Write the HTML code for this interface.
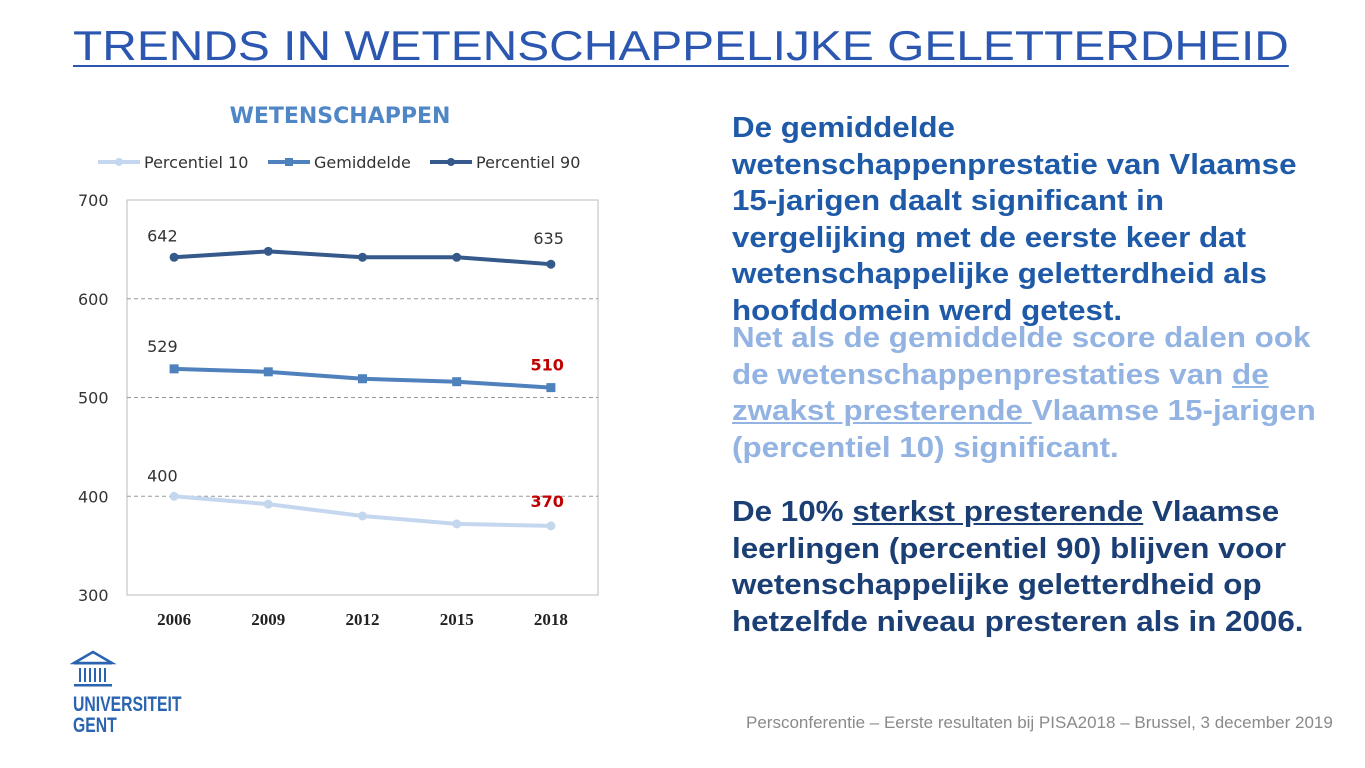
<!DOCTYPE html>
<html><head><meta charset="utf-8"><style>
body{margin:0;width:1365px;height:768px;background:#fff;position:relative;overflow:hidden;font-family:"Liberation Sans",sans-serif}
#title{position:absolute;left:73px;top:22px;font-size:42px;color:#2b57b0;text-decoration:underline;text-decoration-thickness:2px;text-underline-offset:5px;white-space:nowrap;transform:scaleX(1.14);transform-origin:left top}
.p{position:absolute;left:732px;font-size:28.5px;font-weight:bold;line-height:36.5px;white-space:nowrap;font-family:"Liberation Sans",sans-serif;transform:scaleX(1.1);transform-origin:left top}
#foot{position:absolute;left:746px;top:713px;font-size:17px;color:#8a8a8a;white-space:nowrap}
</style></head><body>
<div id="title">TRENDS IN WETENSCHAPPELIJKE GELETTERDHEID</div>
<svg id="chart" width="700" height="768" style="position:absolute;left:0;top:0"></svg>
<div class="p" style="top:110px;color:#1f5aa8">De gemiddelde<br>wetenschappenprestatie van Vlaamse<br>15-jarigen daalt significant in<br>vergelijking met de eerste keer dat<br>wetenschappelijke geletterdheid als<br>hoofddomein werd getest.</div>
<div class="p" style="top:320px;color:#93b3e3">Net als de gemiddelde score dalen ook<br>de wetenschappenprestaties van <u>de</u><br><u>zwakst presterende </u>Vlaamse 15-jarigen<br>(percentiel 10) significant.</div>
<div class="p" style="top:494px;color:#1b3f75">De 10% <u>sterkst presterende</u> Vlaamse<br>leerlingen (percentiel 90) blijven voor<br>wetenschappelijke geletterdheid op<br>hetzelfde niveau presteren als in 2006.</div>
<div id="foot">Persconferentie – Eerste resultaten bij PISA2018 – Brussel, 3 december 2019</div>
<svg width="150" height="90" style="position:absolute;left:70px;top:648px">
<path d="M4 15 L23 4 L42 15 Z" fill="none" stroke="#2a64b0" stroke-width="2.5"/>
<rect x="4" y="14" width="38" height="2.5" fill="#2a64b0"/>
<g fill="#2a64b0"><rect x="9" y="20" width="2" height="14"/><rect x="14" y="20" width="2" height="14"/><rect x="19" y="20" width="2" height="14"/><rect x="24" y="20" width="2" height="14"/><rect x="29" y="20" width="2" height="14"/><rect x="34" y="20" width="2" height="14"/></g>
<rect x="4" y="36" width="38" height="2.5" fill="#2a64b0"/>
<g transform="translate(3,0) scale(0.75,1)">
<text x="0" y="63" font-family="Liberation Sans,sans-serif" font-weight="bold" font-size="21" fill="#2a64b0">UNIVERSITEIT</text>
<text x="0" y="84" font-family="Liberation Sans,sans-serif" font-weight="bold" font-size="21" fill="#2a64b0">GENT</text>
</g>
</svg>
<script>
const years=["2006","2009","2012","2015","2018"];
const p10=[400,392,380,372,370];
const mean=[529,526,519,516,510];
const p90=[642,648,642,642,635];
const yTicks=[300,400,500,600,700];
const ns="http://www.w3.org/2000/svg";
const svg=document.getElementById('chart');
const L=127,R=598,T=200,B=595;
const x=i=>L+(R-L)*(i+0.5)/years.length;
const y=v=>B-(v-300)/(400)*(B-T);
function mk(t,a,p){const e=document.createElementNS(ns,t);for(const k in a)e.setAttribute(k,a[k]);(p||svg).appendChild(e);return e;}
let e=mk('text',{x:340,y:123,'text-anchor':'middle','font-size':22,'font-weight':'bold',fill:'#4f86c6','font-family':'DejaVu Sans,sans-serif'});e.textContent='WETENSCHAPPEN';


e=mk('rect',{x:L,y:T,width:R-L,height:B-T,fill:'none',stroke:'#bbb'});


yTicks.forEach(v=>{
 if(v>300&&v<700){const g=mk('line',{x1:L,x2:R,y1:y(v),y2:y(v),stroke:'#999','stroke-dasharray':'4,3'});
 
 }
 const t=mk('text',{x:78,y:y(v)+6,'font-size':16,fill:'#333','font-family':'DejaVu Sans,sans-serif'});t.textContent=v;
 
 
});
years.forEach((yr,i)=>{const t=mk('text',{x:x(i),y:625,'text-anchor':'middle','font-size':17,'font-weight':'bold',fill:'#222','font-family':'Liberation Serif,serif'});t.textContent=yr;
 
 });
const series=[{n:'Percentiel 10',d:p10,c:'#c5d7ee',m:'circle',lx:98},{n:'Gemiddelde',d:mean,c:'#4f81bd',m:'square',lx:268},{n:'Percentiel 90',d:p90,c:'#34598a',m:'circle',lx:430}];
series.forEach(s=>{
 const g=mk('g',{});
 
 
 mk('polyline',{points:s.d.map((v,i)=>x(i)+','+y(v)).join(' '),fill:'none',stroke:s.c,'stroke-width':4},g);
 s.d.forEach((v,i)=>{const p=s.m==='square'?mk('rect',{x:x(i)-4.5,y:y(v)-4.5,width:9,height:9,fill:s.c},g):mk('circle',{cx:x(i),cy:y(v),r:4.5,fill:s.c},g);
 
 });
 const lg=mk('g',{});
 
 
 mk('line',{x1:s.lx,x2:s.lx+42,y1:162,y2:162,stroke:s.c,'stroke-width':4},lg);
 if(s.m==='square')mk('rect',{x:s.lx+17,y:158,width:8,height:8,fill:s.c},lg);else mk('circle',{cx:s.lx+21,cy:162,r:4,fill:s.c},lg);
 const t=mk('text',{x:s.lx+46,y:168,'font-size':16,fill:'#333','font-family':'DejaVu Sans,sans-serif'},lg);t.textContent=s.n;
});
const labels=[[0,p90,'#333',-16],[4,p90,'#333',-20],[0,mean,'#333',-17],[4,mean,'#c00000',-17],[0,p10,'#333',-15],[4,p10,'#c00000',-19]];
labels.forEach(([i,d,c,dy])=>{const t=mk('text',{x:0,y:y(d[i])+dy,'font-size':16,fill:c,'font-weight':c==='#333'?'normal':'bold','font-family':'DejaVu Sans,sans-serif','text-anchor':i===0?'start':'end'});
 t.setAttribute('x',i===0?x(i)-27:x(i)+13);
 t.textContent=d[i];
 
 });
</script>
</body></html>
